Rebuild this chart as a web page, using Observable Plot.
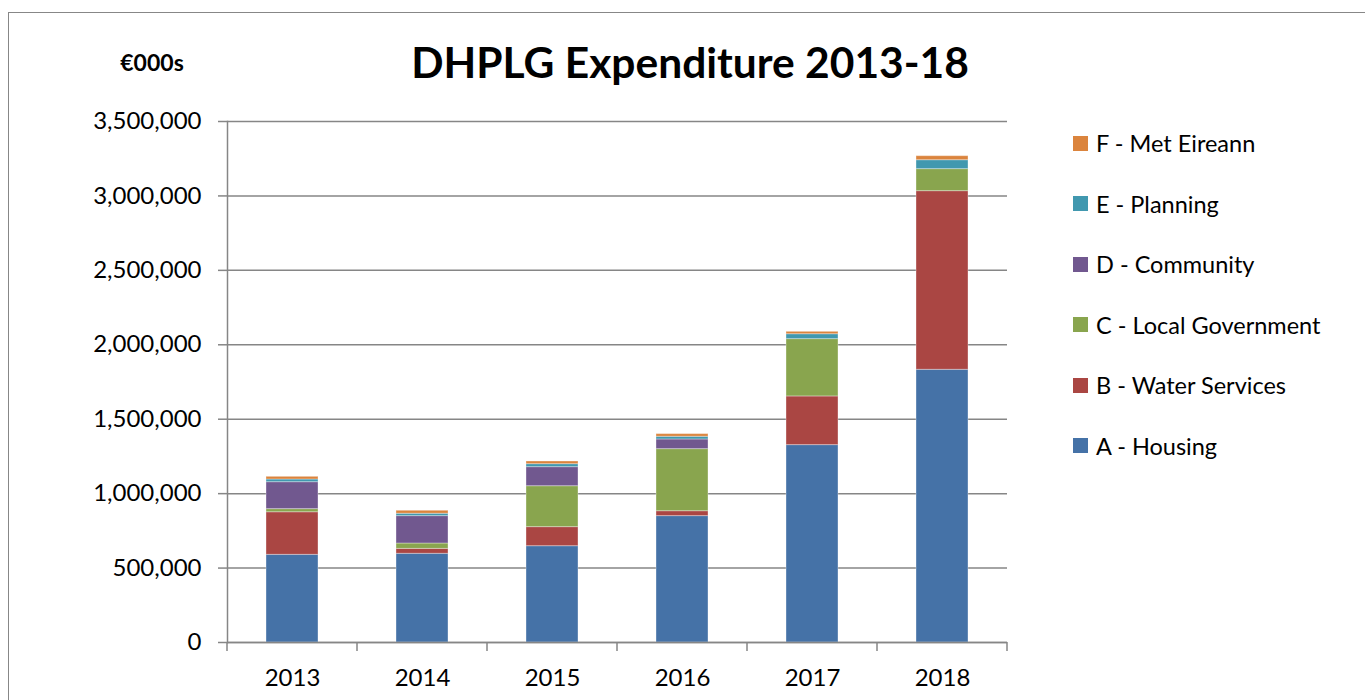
<!DOCTYPE html>
<html>
<head>
<meta charset="utf-8">
<script src="https://cdn.jsdelivr.net/npm/d3@7"></script>
<script src="https://cdn.jsdelivr.net/npm/@observablehq/plot@0.6"></script>
<style>
  body { margin: 0; background: #fff; font-family: Lato, "Open Sans", sans-serif; }
  #wrap { position: relative; width: 1365px; height: 700px; overflow: hidden; background: #fff; }
  #frame { position: absolute; left: 8px; top: 12px; width: 1420px; height: 800px; border: 1.5px solid #878787; box-sizing: border-box; }
  #chart { position: absolute; left: 0; top: 0; }
  #title { position: absolute; left: 690px; top: 41px; transform: translateX(-50%); font: bold 42.5px Lato; line-height: 42px; white-space: nowrap; color: #000; }
  #unit { position: absolute; left: 152px; top: 51px; transform: translateX(-50%); font: bold 23px Lato; line-height: 22px; white-space: nowrap; color: #000; }
  #legend { position: absolute; left: 1073px; top: 0; }
  .row { position: absolute; left: 0; height: 30px; display: flex; align-items: center; white-space: nowrap; font: 23.5px Lato; color: #000; }
  .sw { width: 15px; height: 15px; margin-right: 8px; flex: none; }
</style>
</head>
<body>
<div id="wrap">
  <div id="frame"></div>
  <div id="chart"></div>
  <div id="unit">€000s</div>
  <div id="title">DHPLG Expenditure 2013-18</div>
  <div id="legend"></div>
</div>
<script>
const years = ["2013", "2014", "2015", "2016", "2017", "2018"];
const seriesNames = ["A - Housing", "B - Water Services", "C - Local Government", "D - Community", "E - Planning", "F - Met Eireann"];
const housing   = [589000, 596000, 647000, 849000, 1326000, 1832000];
const water     = [286000, 33000, 128000, 33000, 327000, 1200000];
const localGov  = [21000, 36000, 275000, 417000, 385000, 148000];
const community = [181000, 184000, 128000, 65000, 0, 0];
const planning  = [18000, 16000, 20000, 18000, 33000, 60000];
const metEireann = [18000, 20000, 18000, 18000, 16000, 27000];
const seriesColors = ["#4572A7", "#AA4643", "#89A54E", "#71588F", "#4198AF", "#DB843D"];
const yTicks = [0, 500000, 1000000, 1500000, 2000000, 2500000, 3000000, 3500000];

const seriesValues = [housing, water, localGov, community, planning, metEireann];
const data = [];
years.forEach((yr, i) => {
  seriesNames.forEach((s, j) => data.push({year: yr, series: s, value: seriesValues[j][i]}));
});

const gridColor = "#868686";

function categoryTicks(index, scales, values, dims) {
  const g = d3.create("svg:g");
  const x = scales.x;
  const step = (dims.width - dims.marginLeft - dims.marginRight) / years.length;
  let bw = x.bandwidth;
  bw = typeof bw === "function" ? bw() : (bw ?? step * 0.4);
  const bounds = years.map(y => x(y) - (step - bw) / 2);
  bounds.push(x(years[years.length - 1]) + bw + (step - bw) / 2);
  const y0 = scales.y(0);
  g.selectAll("line").data(bounds).join("line")
    .attr("x1", d => d).attr("x2", d => d)
    .attr("y1", y0).attr("y2", y0 + 9)
    .attr("stroke", gridColor).attr("stroke-width", 1.5);
  return g.node();
}

const plot = Plot.plot({
  width: 1365,
  height: 700,
  marginLeft: 227,
  marginRight: 358,
  marginTop: 121,
  marginBottom: 58,
  style: {fontFamily: "Lato", fontSize: "24px", color: "#000", background: "transparent"},
  x: {domain: years, paddingInner: 0.6, paddingOuter: 0.3},
  y: {domain: [0, 3500000]},
  color: {domain: seriesNames, range: seriesColors},
  marks: [
    Plot.gridY(yTicks, {stroke: gridColor, strokeOpacity: 1, strokeWidth: 1.5}),
    Plot.barY(data, {x: "year", y: "value", fill: "series", order: seriesNames, stroke: "#fff", strokeOpacity: 0.35, strokeWidth: 1}),
    Plot.frame({anchor: "left", stroke: gridColor, strokeWidth: 1.5}),
    Plot.ruleY([0], {stroke: gridColor, strokeWidth: 1.5}),
    Plot.axisY({ticks: yTicks, tickFormat: d3.format(","), tickSize: 9, tickPadding: 17, stroke: gridColor, strokeWidth: 1.5, label: null, fill: "#000"}),
    Plot.axisX({tickSize: 0, tickPadding: 26, label: null, fill: "#000"}),
    categoryTicks
  ]
});
document.getElementById("chart").appendChild(plot);

const legend = document.getElementById("legend");
const legendOrder = seriesNames.map((s, i) => i).reverse();
legendOrder.forEach((idx, r) => {
  const row = document.createElement("div");
  row.className = "row";
  row.style.top = (143 + r * 60.5 - 15) + "px";
  const sw = document.createElement("div");
  sw.className = "sw";
  sw.style.background = seriesColors[idx];
  const t = document.createElement("span");
  t.textContent = seriesNames[idx];
  row.appendChild(sw);
  row.appendChild(t);
  legend.appendChild(row);
});
</script>
</body>
</html>
